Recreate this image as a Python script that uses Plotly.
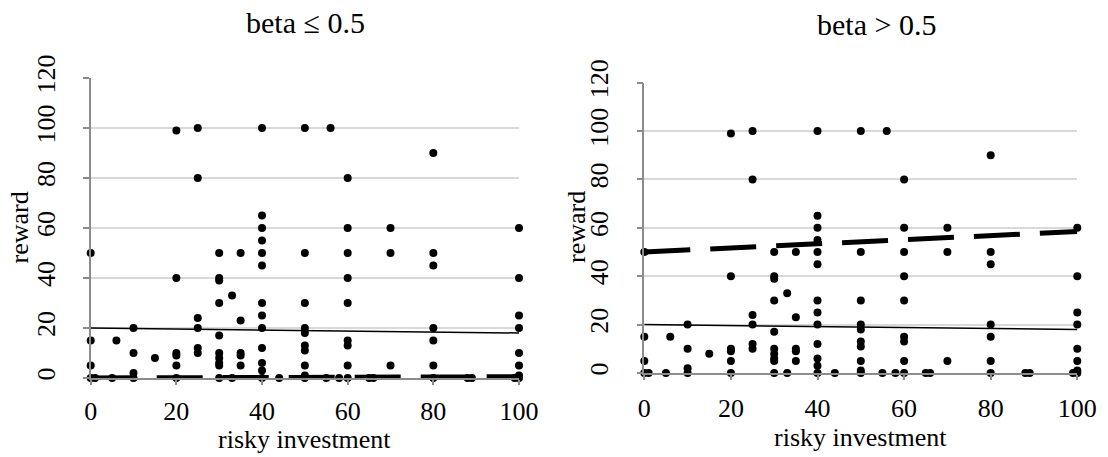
import plotly.graph_objects as go

# Observations: risky investment (x) and reward (y); both panels share them
risky_investment = [
    0, 0, 0, 0, 1, 5, 6,
    10, 10, 10, 10, 15,
    20, 20, 20, 20, 20, 20,
    25, 25, 25, 25, 25, 25,
    30, 30, 30, 30, 30, 30, 30, 30, 30, 30,
    33, 33,
    35, 35, 35, 35, 35,
    40, 40, 40, 40, 40, 40, 40, 40, 40, 40, 40, 40, 40,
    44,
    50, 50, 50, 50, 50, 50, 50, 50, 50, 50,
    55, 56, 58,
    60, 60, 60, 60, 60, 60, 60, 60, 60,
    65, 66,
    70, 70, 70,
    80, 80, 80, 80, 80, 80, 80,
    88, 89, 99,
    100, 100, 100, 100, 100, 100, 100, 100,
]
reward = [
    50, 15, 5, 0, 0, 0, 15,
    20, 10, 2, 0, 8,
    99, 40, 10, 9, 5, 0,
    100, 80, 24, 20, 12, 10,
    50, 40, 39, 30, 17, 10, 8, 6, 5, 0,
    33, 0,
    50, 23, 10, 9, 5,
    100, 65, 60, 55, 50, 45, 30, 25, 20, 12, 6, 3, 0,
    0,
    100, 50, 30, 20, 18, 13, 11, 5, 1, 0,
    0, 100, 0,
    80, 60, 50, 40, 30, 15, 13, 5, 0,
    0, 0,
    60, 50, 5,
    90, 50, 45, 20, 15, 5, 0,
    0, 0, 0,
    60, 40, 25, 20, 10, 5, 1, 0,
]

# Linear trend lines, given by their values at x = 0 and x = 100
trend_x = [0, 100]
trend_solid = [20, 18]
trend_dashed_low = [0, 0.5]
trend_dashed_high = [50, 58.5]

panel_titles = ["beta \u2264 0.5", "beta > 0.5"]
x_ticks = [0, 20, 40, 60, 80, 100]
y_ticks = [0, 20, 40, 60, 80, 100, 120]

W, H = 1108, 457
FONT = "Liberation Serif"
AXIS_GRAY = "#8c8c8c"
GRID_GRAY = "#d9d9d9"


def px_x(p):
    return p / W


def px_y(p):
    return (H - p) / H


# Plot-area boxes in pixels: (left, right, top, bottom)
panels = [
    dict(box=(90.7, 519.0, 78.0, 378.0), xa="x", ya="y",
         dashed=trend_dashed_low, title_xy=(305.8, 22.5),
         xstandoff=4, xtitle_y=439, ytitle_x=18.5, ytitle_y=228),
    dict(box=(644.3, 1077.3, 82.7, 373.0), xa="x2", ya="y2",
         dashed=trend_dashed_high, title_xy=(876.5, 25.0),
         xstandoff=6, xtitle_y=437, ytitle_x=576.0, ytitle_y=227),
]

fig = go.Figure()
annotations = []

for i, p in enumerate(panels):
    l, r, t, b = p["box"]
    suffix = "" if i == 0 else "2"

    fig.add_trace(go.Scatter(
        x=trend_x, y=trend_solid, xaxis=p["xa"], yaxis=p["ya"],
        mode="lines", line=dict(color="black", width=1.5),
        showlegend=False, hoverinfo="skip", cliponaxis=False))
    fig.add_trace(go.Scatter(
        x=trend_x, y=p["dashed"], xaxis=p["xa"], yaxis=p["ya"],
        mode="lines", line=dict(color="black", width=5, dash="46px,20px"),
        showlegend=False, hoverinfo="skip", cliponaxis=False))
    fig.add_trace(go.Scatter(
        x=risky_investment, y=reward, xaxis=p["xa"], yaxis=p["ya"],
        mode="markers", marker=dict(color="black", size=8, line=dict(width=0)),
        showlegend=False, cliponaxis=False))

    fig.update_layout({
        "xaxis" + suffix: dict(
            domain=[px_x(l), px_x(r)], range=[0, 100], anchor="y" + suffix,
            automargin=False,
            tickvals=x_ticks, showgrid=False, zeroline=False,
            showline=True, linecolor=AXIS_GRAY, linewidth=1.5,
            ticks="outside", ticklen=5, tickwidth=1.5, tickcolor=AXIS_GRAY,
            ticklabelstandoff=p["xstandoff"],
            tickfont=dict(family=FONT, size=26, color="black"),
        ),
        "yaxis" + suffix: dict(
            domain=[px_y(b), px_y(t)], range=[0, 120], anchor="x" + suffix,
            automargin=False,
            tickvals=y_ticks, showgrid=True, gridcolor=GRID_GRAY, gridwidth=1.5,
            zeroline=False, showline=True, linecolor=AXIS_GRAY, linewidth=1.5,
            ticks="outside", ticklen=6, tickwidth=1.5, tickcolor=AXIS_GRAY,
            tickangle=-90, ticklabelstandoff=18,
            tickfont=dict(family=FONT, size=26, color="black"),
        ),
    })

    tx, ty = p["title_xy"]
    annotations.append(dict(
        text=panel_titles[i], x=px_x(tx), y=px_y(ty), xref="paper", yref="paper",
        xanchor="center", yanchor="middle", showarrow=False,
        font=dict(family=FONT, size=30, color="black")))
    annotations.append(dict(
        text="risky investment", x=px_x((l + r) / 2), y=px_y(p["xtitle_y"]),
        xref="paper", yref="paper", xanchor="center", yanchor="middle",
        showarrow=False, font=dict(family=FONT, size=26, color="black")))
    annotations.append(dict(
        text="reward", x=px_x(p["ytitle_x"]), y=px_y(p["ytitle_y"]),
        xref="paper", yref="paper", xanchor="center", yanchor="middle",
        textangle=-90, showarrow=False,
        font=dict(family=FONT, size=26, color="black")))

fig.update_layout(
    template="none",
    width=W, height=H,
    margin=dict(l=0, r=0, t=0, b=0, pad=0),
    paper_bgcolor="white", plot_bgcolor="white",
    font=dict(family=FONT, color="black"),
    annotations=annotations,
)

fig.write_html("out.html")
